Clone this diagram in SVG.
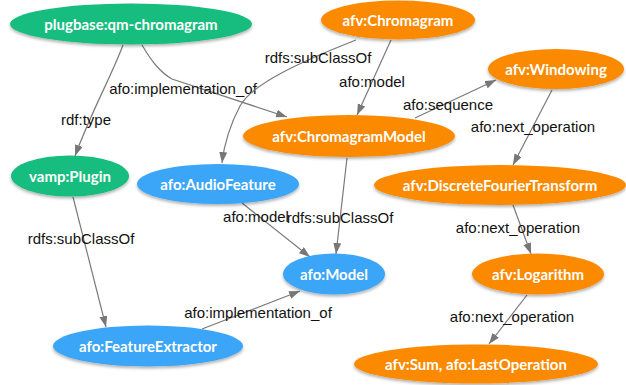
<svg xmlns="http://www.w3.org/2000/svg" width="626" height="385" viewBox="0 0 626 385">
  <defs>
    <filter id="shadow" x="-10%" y="-20%" width="120%" height="150%">
      <feDropShadow dx="0" dy="2" stdDeviation="1.5" flood-color="#000" flood-opacity="0.3"/>
    </filter>
    <marker id="arrow" markerUnits="userSpaceOnUse" markerWidth="12" markerHeight="10" refX="11" refY="4" orient="auto">
      <path d="M0,0 L11,4 L0,8 Z" fill="#777"/>
    </marker>
    <style>
      .node ellipse { filter: url(#shadow); }
      .green ellipse { fill: #12bd7e; }
      .orange ellipse { fill: #fb8a00; }
      .blue ellipse { fill: #3aa5f7; }
      .node text { font-family: Lato, "Liberation Sans", sans-serif; font-weight: bold; font-size: 15px; fill: #fff; text-anchor: middle; dominant-baseline: central; }
      .edges path { fill: none; stroke: #7a7a7a; stroke-width: 1.2; marker-end: url(#arrow); }
      .edges text { font-family: "Liberation Sans", Arial, sans-serif; font-size: 15px; fill: #111; text-anchor: middle; dominant-baseline: central; }
    </style>
  </defs>
  <rect width="626" height="385" fill="#fff"/>

  <g class="edges" id="connectors">
    <!-- plugbase:qm-chromagram -> vamp:Plugin -->
    <path d="M123,45 C112,75 92,110 75,156"/>
    <text x="86" y="119">rdf:type</text>
    <!-- plugbase:qm-chromagram -> afv:ChromagramModel -->
    <path d="M142,45 C152,62 160,72 172,79 L287,117"/>
    <text x="183" y="88">afo:implementation_of</text>
    <!-- afv:Chromagram -> afo:AudioFeature -->
    <path d="M356,40 C300,62 252,84 240,106 C230,125 224,145 222,163"/>
    <text x="318" y="57">rdfs:subClassOf</text>
    <!-- afv:Chromagram -> afv:ChromagramModel -->
    <path d="M391,40 L357,115"/>
    <text x="372" y="81">afo:model</text>
    <!-- afv:ChromagramModel -> afv:Windowing -->
    <path d="M415,118 L496,80"/>
    <text x="448" y="104">afo:sequence</text>
    <!-- afv:Windowing -> afv:DiscreteFourierTransform -->
    <path d="M552,90 L513,165"/>
    <text x="533" y="126">afo:next_operation</text>
    <!-- afv:ChromagramModel -> afo:Model -->
    <path d="M347,158 L336,254"/>
    <text x="340" y="217">rdfs:subClassOf</text>
    <!-- afo:AudioFeature -> afo:Model -->
    <path d="M242,203 L310,257"/>
    <text x="256" y="216">afo:model</text>
    <!-- vamp:Plugin -> afo:FeatureExtractor -->
    <path d="M73,197 L106,327"/>
    <text x="81" y="238">rdfs:subClassOf</text>
    <!-- afo:FeatureExtractor -> afo:Model -->
    <path d="M202,329 L300,291"/>
    <text x="258" y="312">afo:implementation_of</text>
    <!-- afv:DiscreteFourierTransform -> afv:Logarithm -->
    <path d="M513,205 L531,254"/>
    <text x="518" y="227">afo:next_operation</text>
    <!-- afv:Logarithm -> afv:Sum -->
    <path d="M527,295 L489,344"/>
    <text x="512" y="316">afo:next_operation</text>
  </g>

  <g id="plugbase-qm-chromagram" class="node green">
    <ellipse cx="131" cy="24" rx="121" ry="20.5"/>
    <text x="131" y="24">plugbase:qm-chromagram</text>
  </g>
  <g id="vamp-Plugin" class="node green">
    <ellipse cx="70" cy="176" rx="59" ry="20.5"/>
    <text x="70" y="176">vamp:Plugin</text>
  </g>
  <g id="afv-Chromagram" class="node orange">
    <ellipse cx="398" cy="20" rx="77" ry="19.5"/>
    <text x="398" y="20">afv:Chromagram</text>
  </g>
  <g id="afv-ChromagramModel" class="node orange">
    <ellipse cx="349" cy="136" rx="106" ry="21"/>
    <text x="349" y="136">afv:ChromagramModel</text>
  </g>
  <g id="afv-Windowing" class="node orange">
    <ellipse cx="556" cy="69" rx="68" ry="20"/>
    <text x="556" y="69">afv:Windowing</text>
  </g>
  <g id="afv-DiscreteFourierTransform" class="node orange">
    <ellipse cx="500" cy="185" rx="126" ry="20"/>
    <text x="500" y="185">afv:DiscreteFourierTransform</text>
  </g>
  <g id="afv-Logarithm" class="node orange">
    <ellipse cx="538" cy="274" rx="66" ry="20.5"/>
    <text x="538" y="274">afv:Logarithm</text>
  </g>
  <g id="afv-Sum" class="node orange">
    <ellipse cx="476" cy="364" rx="122" ry="19.5"/>
    <text x="476" y="364">afv:Sum, afo:LastOperation</text>
  </g>
  <g id="afo-AudioFeature" class="node blue">
    <ellipse cx="218" cy="184" rx="81" ry="20"/>
    <text x="218" y="184">afo:AudioFeature</text>
  </g>
  <g id="afo-Model" class="node blue">
    <ellipse cx="334" cy="274" rx="51" ry="20.5"/>
    <text x="334" y="274">afo:Model</text>
  </g>
  <g id="afo-FeatureExtractor" class="node blue">
    <ellipse cx="148" cy="346" rx="95" ry="20.5"/>
    <text x="148" y="346">afo:FeatureExtractor</text>
  </g>
</svg>
